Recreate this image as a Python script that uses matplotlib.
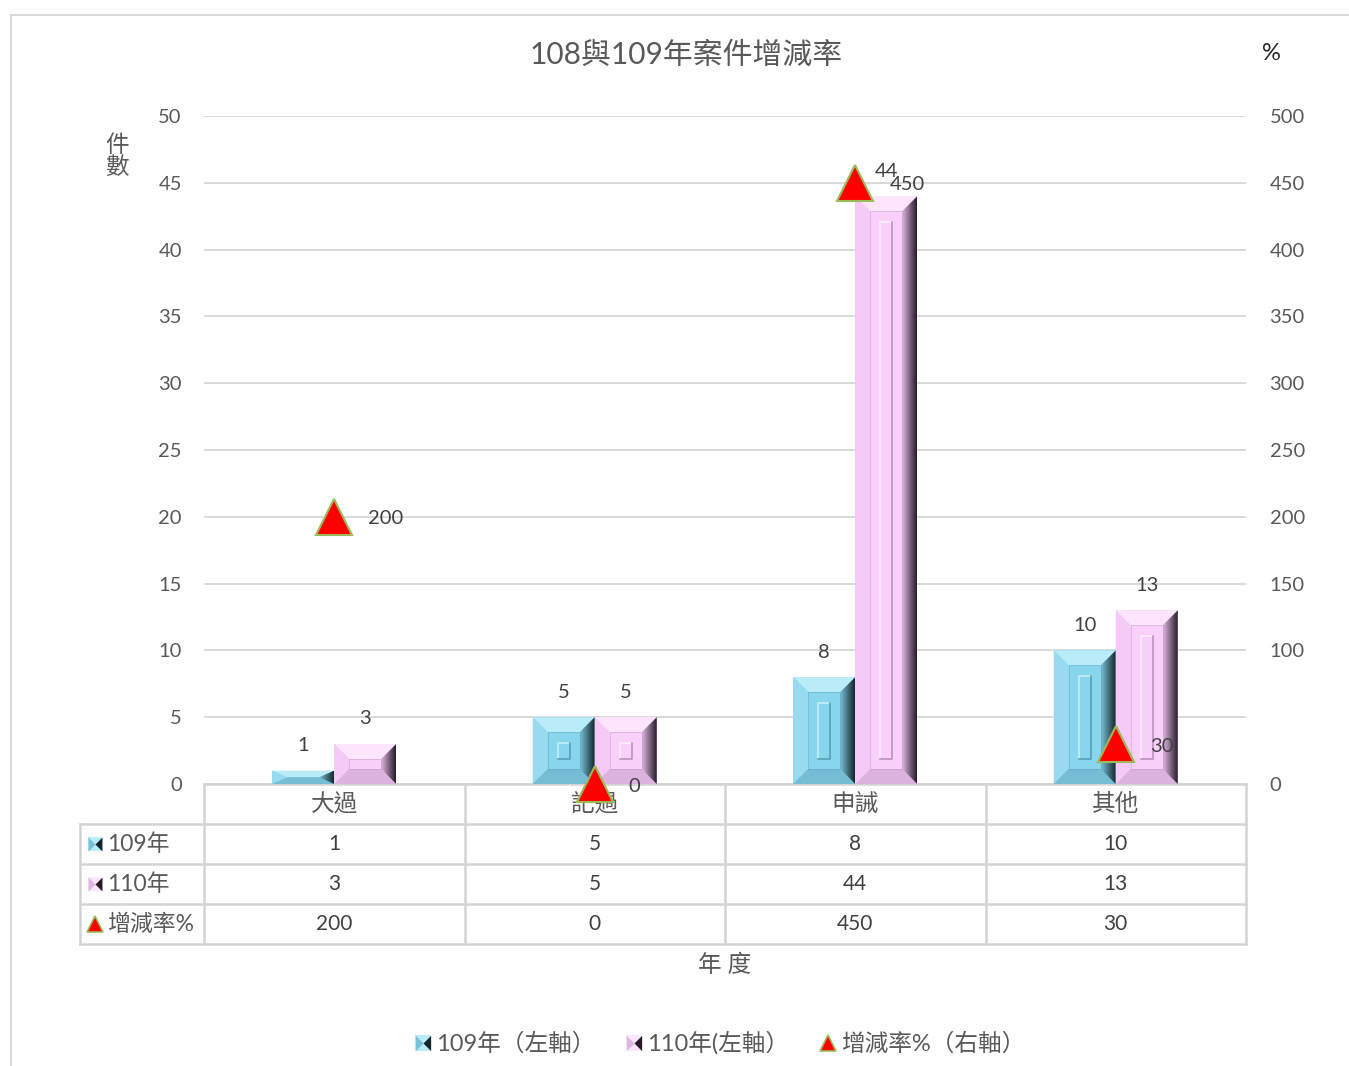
import matplotlib
matplotlib.use('Agg')
import matplotlib.pyplot as plt
from matplotlib.patches import Polygon, Rectangle
from matplotlib.lines import Line2D
from matplotlib.path import Path
from matplotlib.colors import LinearSegmentedColormap
from matplotlib.transforms import blended_transform_factory
import numpy as np

# ---------------- data ----------------
categories = ['大過', '記過', '申誡', '其他']
y109 = [1, 5, 8, 10]
y110 = [3, 5, 44, 13]
rate = [200, 0, 450, 30]
left_ticks = [0, 5, 10, 15, 20, 25, 30, 35, 40, 45, 50]
right_ticks = [0, 100, 150, 200, 250, 300, 350, 400, 450, 500]
row_names = ['109年', '110年', '增減率%']
legend_labels = ['109年（左軸）', '110年(左軸）', '增減率%（右軸）']
title = '108與109年案件增減率'

FONT = ['Lato', 'Noto Sans CJK TC', 'DejaVu Sans']
plt.rcParams['font.family'] = FONT

W, H = 1349, 1066
fig = plt.figure(figsize=(W / 100, H / 100), dpi=100)
fig.patch.set_facecolor('white')

AX_L, AX_R, AX_T, AX_B = 204, 1246, 116, 784
ax = fig.add_axes([AX_L / W, 1 - AX_B / H, (AX_R - AX_L) / W, (AX_B - AX_T) / H])
ax.set_xlim(-0.5, len(categories) - 0.5)
ax.set_ylim(0, 50)
ax.set_yticks(left_ticks)
ax.set_xticks([])
for s in ax.spines.values():
    s.set_visible(False)
ax.yaxis.grid(True, color='#d9d9d9', lw=1.4)
ax.set_axisbelow(True)
ax.tick_params(axis='y', length=0, pad=16, labelsize=14.5, labelcolor='#595959')

ax2 = ax.twinx()
ax2.set_ylim(0, 500)
ax2.set_yticks(right_ticks)
for s in ax2.spines.values():
    s.set_visible(False)
ax2.tick_params(axis='y', length=0, pad=17, labelsize=14.5, labelcolor='#595959')

px = (len(categories)) / (AX_R - AX_L)   # data x per pixel
py = 50 / (AX_B - AX_T)                  # data y per pixel

blue = dict(face='#88d5ee', top='#b9ebf9', left='#98dbf0', bottom='#74bdd4',
            r0='#78c1d7', r1='#14262c', strip_l='#bdebf8', strip_r='#57a0b6')
pink = dict(face='#f8d0fa', top='#fde6fd', left='#f5caf7', bottom='#dcb2de',
            r0='#dfb6e2', r1='#261b27', strip_l='#fde9fd', strip_r='#bb92bd')

bw = 0.238
x = np.arange(len(categories))
bars1 = ax.bar(x - bw / 2, y109, bw, color=blue['face'], zorder=2, lw=0)
bars2 = ax.bar(x + bw / 2, y110, bw, color=pink['face'], zorder=2, lw=0)


def bevel(ax, bar, pal):
    x0, w, h = bar.get_x(), bar.get_width(), bar.get_height()
    x1 = x0 + w
    bx = min(15 * px, w / 2)
    by = min(15 * py, h / 2)
    ax.add_patch(Polygon([(x0, h), (x1, h), (x1 - bx, h - by), (x0 + bx, h - by)],
                         fc=pal['top'], ec='none', zorder=3))
    ax.add_patch(Polygon([(x0, 0), (x0, h), (x0 + bx, h - by), (x0 + bx, by)],
                         fc=pal['left'], ec='none', zorder=3))
    ax.add_patch(Polygon([(x0, 0), (x1, 0), (x1 - bx, by), (x0 + bx, by)],
                         fc=pal['bottom'], ec='none', zorder=3))
    rpoly = Polygon([(x1, 0), (x1, h), (x1 - bx, h - by), (x1 - bx, by)],
                    fc='none', ec='none', zorder=3)
    ax.add_patch(rpoly)
    cmap = LinearSegmentedColormap.from_list('g', [pal['r0'], pal['r1']])
    grad = np.linspace(0, 1, 64).reshape(1, -1)
    im = ax.imshow(grad, cmap=cmap, extent=(x1 - bx, x1, 0, h), aspect='auto',
                   zorder=3, interpolation='bilinear')
    im.set_clip_path(rpoly)
    # inner bevel outline
    if h > 2 * by:
        ax.add_patch(Rectangle((x0 + bx, by), w - 2 * bx, h - 2 * by, fc='none',
                               ec=pal['strip_r'], lw=0.6, alpha=0.5, zorder=3))
    # inner raised strip
    if h > 52 * py:
        xc = x0 + w / 2
        sx0, sx1 = xc - 6 * px, xc + 6 * px
        sy0, sy1 = 25 * py, h - 26 * py
        ax.add_patch(Rectangle((sx0, sy0), sx1 - sx0, sy1 - sy0, fc=pal['face'],
                               ec='none', zorder=3))
        ax.plot([sx0, sx0, sx1], [sy0, sy1, sy1], color=pal['strip_l'], lw=1.4, zorder=4)
        ax.plot([sx1, sx1, sx0], [sy1, sy0, sy0], color=pal['strip_r'], lw=1.2, zorder=4)


for b in bars1:
    bevel(ax, b, blue)
for b in bars2:
    bevel(ax, b, pink)
ax.set_xlim(-0.5, len(categories) - 0.5)
ax.set_ylim(0, 50)

# bar value labels
for bars in (bars1, bars2):
    for b in bars:
        ax.annotate(f'{b.get_height():g}', (b.get_x() + b.get_width() / 2, b.get_height()),
                    xytext=(0, 18), textcoords='offset points', ha='center', va='center',
                    fontsize=14.5, color='#404040', zorder=6)

# rate markers (right axis)
ax2.plot(x, rate, ls='none', marker='^', markersize=26, markerfacecolor='#ff0000',
         markeredgecolor='#9bbb59', markeredgewidth=1.5, clip_on=False, zorder=5)
for xi, r in zip(x, rate):
    ax2.annotate(f'{r:g}', (xi, r), xytext=(24.5, -1.5), textcoords='offset points',
                 ha='left', va='center', fontsize=14.5, color='#404040', zorder=6,
                 annotation_clip=False)

# ---------------- data table ----------------
trans = blended_transform_factory(ax.transData, ax.transAxes)
rh = 40 / (AX_B - AX_T)
lx = (80 - AX_L) / (AX_R - AX_L)
line_kw = dict(color='#d4d4d4', lw=1.8, clip_on=False, zorder=1)
ax.add_line(Line2D([0, 1], [0, 0], transform=ax.transAxes, **line_kw))
for k in range(1, 5):
    ax.add_line(Line2D([lx, 1], [-rh * k, -rh * k], transform=ax.transAxes, **line_kw))
for xb in np.arange(len(categories) + 1) - 0.5:
    ax.add_line(Line2D([xb, xb], [0, -4 * rh], transform=trans, **line_kw))
ax.add_line(Line2D([lx, lx], [-rh, -4 * rh], transform=ax.transAxes, **line_kw))

for i, c in enumerate(categories):
    ax.text(i, -rh * 0.5, c, transform=trans, ha='center', va='center',
            fontsize=17, color='#595959', zorder=2)
for k, vals in enumerate([y109, y110, rate]):
    for i, v in enumerate(vals):
        ax.text(i, -rh * (k + 1.5), f'{v:g}', transform=trans, ha='center', va='center',
                fontsize=15, color='#404040', zorder=2)
    ax.text((107 - AX_L) / (AX_R - AX_L), -rh * (k + 1.5), row_names[k],
            transform=ax.transAxes, ha='left', va='center', fontsize=16.5,
            color='#595959', zorder=2)

# legend-key icons
tri_l = Path([(-1, -1), (0, 0), (-1, 1), (-1, -1)])
tri_r = Path([(1, 1), (0, 0), (1, -1), (1, 1)])


def key_handles(pal, ms=11):
    a = Line2D([], [], ls='none', marker='s', markersize=ms, markerfacecolor=pal['top'],
               markeredgewidth=0)
    b = Line2D([], [], ls='none', marker=tri_l, markersize=ms, markerfacecolor=pal['r0'],
               markeredgewidth=0)
    c = Line2D([], [], ls='none', marker=tri_r, markersize=ms, markerfacecolor=pal['r1'],
               markeredgewidth=0)
    return a, b, c


def tri_handle(ms=11):
    return Line2D([], [], ls='none', marker='^', markersize=ms, markerfacecolor='#ff0000',
                  markeredgecolor='#9bbb59', markeredgewidth=1.2)


icon_x = (95 - AX_L) / (AX_R - AX_L)
for k, pal in enumerate([blue, pink]):
    for h in key_handles(pal, 10):
        ax.plot([icon_x], [-rh * (k + 1.5)], transform=ax.transAxes, clip_on=False,
                ls='none', marker=h.get_marker(), markersize=h.get_markersize(),
                markerfacecolor=h.get_markerfacecolor(), markeredgewidth=0, zorder=3)
ax.plot([icon_x], [-rh * 3.5], transform=ax.transAxes, clip_on=False, ls='none',
        marker='^', markersize=11, markerfacecolor='#ff0000', markeredgecolor='#9bbb59',
        markeredgewidth=1.2, zorder=3)

# ---------------- texts ----------------
fig.text(686 / W, 1 - 55 / H, title, ha='center', va='center', fontsize=21.5, color='#595959')
fig.text(1271 / W, 1 - 53 / H, '%', ha='center', va='center', fontsize=17, color='#262626')
fig.text(117 / W, 1 - 156 / H, '件\n數', ha='center', va='center', fontsize=17,
         color='#595959', linespacing=1.0)
fig.text(725 / W, 1 - 965 / H, '年 度', ha='center', va='center', fontsize=17, color='#595959')

leg_handles = [key_handles(blue), key_handles(pink), tri_handle()]
fig.legend(leg_handles, legend_labels, loc='center',
           bbox_to_anchor=(720 / W, 1 - 1043 / H), ncol=3, frameon=False, fontsize=17,
           handlelength=0.7, handletextpad=0.2, columnspacing=1.3, labelcolor='#595959')

# chart area frame
fig.add_artist(Line2D([11 / W, 11 / W], [0, 1 - 15 / H], transform=fig.transFigure,
                      color='#d9d9d9', lw=1.5))
fig.add_artist(Line2D([11 / W, 1], [1 - 15 / H, 1 - 15 / H], transform=fig.transFigure,
                      color='#d9d9d9', lw=1.5))

fig.savefig('out.png', dpi=100)
